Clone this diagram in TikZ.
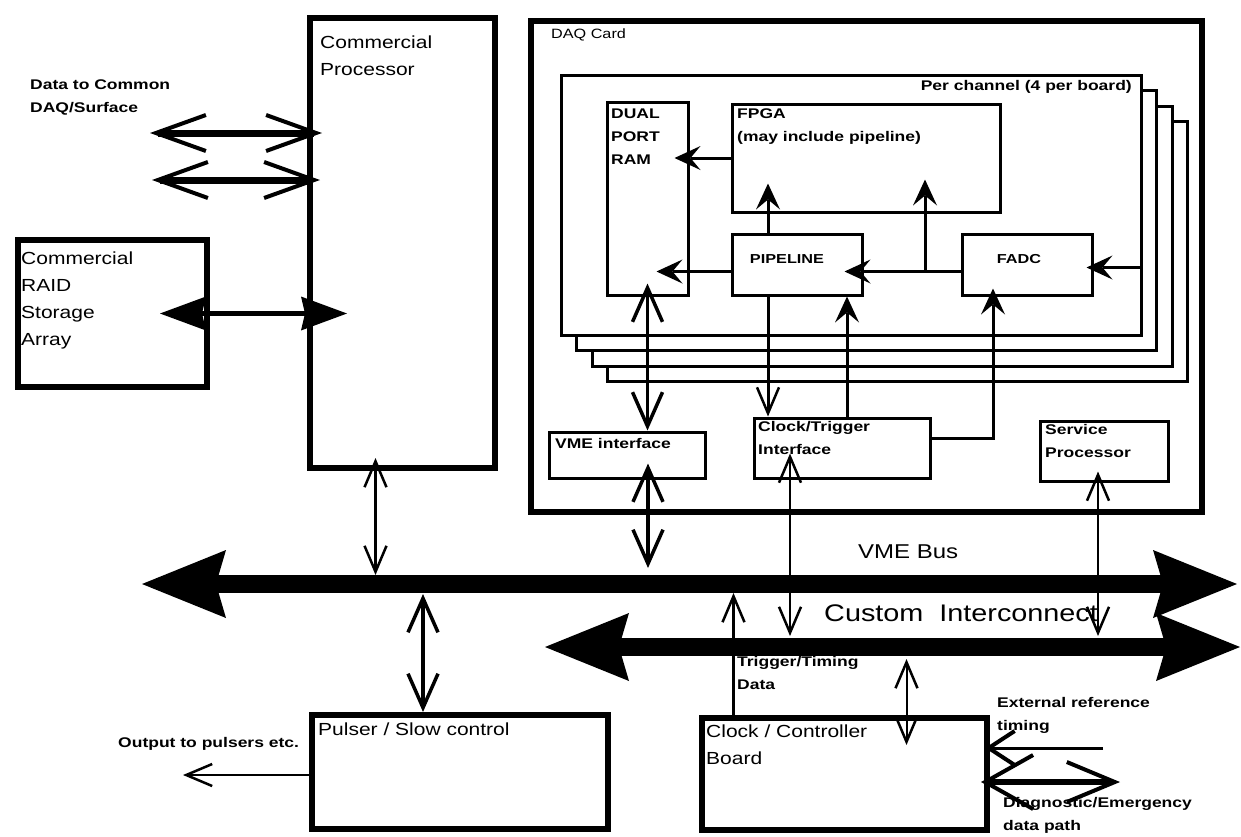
\documentclass[tikz,border=0pt]{standalone}
\usepackage{fontspec}
\setmainfont{Liberation Sans}[FakeStretch=1.2]
\newfontfamily\tagfamily{Liberation Sans}[FakeStretch=1.25]
\usetikzlibrary{arrows.meta,fit}
\tikzset{
  blk/.style={draw, line width=#1, inner sep=0pt, fill=white},
  blk/.default=3pt,
  boxtxt/.style={anchor=north west, align=left, inner sep=0pt,
                 font=\fontsize{17.5}{27}\selectfont},
  tag/.style={anchor=north west, align=left, inner sep=0pt,
              font=\tagfamily\bfseries\fontsize{14}{23}\selectfont},
  % arrow tips
  busTip/.tip={Stealth[length=84pt,width=68pt,inset=10pt,line width=0pt]},
  dataV/.tip={Straight Barb[length=50pt,width=36pt,line width=4pt]},
  fatTri/.tip={Stealth[length=46pt,width=34pt,inset=4pt,line width=0pt]},
  midV/.tip={Straight Barb[length=34pt,width=30pt,line width=3.5pt]},
  thinV/.tip={Straight Barb[length=26pt,width=22pt,line width=2.5pt]},
  inTip/.tip={Stealth[length=26pt,width=24pt,inset=10pt,line width=0pt]},
  % connector styles
  bus/.style={line width=18pt, {busTip}-{busTip}},
  datalink/.style={line width=7pt, {dataV}-{dataV}},
  raidlink/.style={line width=5pt, {fatTri}-{fatTri}},
  midlink/.style={line width=3.5pt, {midV}-{midV}},
  thinlink/.style={line width=2.5pt, {thinV}-{thinV}},
  inlink/.style={line width=3pt, -{inTip}},
}

\begin{document}
\begin{tikzpicture}[x=1pt, y=-1pt]
\useasboundingbox (0,0) rectangle (1241,836);

%% == LEFT SIDE ================================================================
\node[blk=6pt, fit={(310,18) (495,468)}] (proc) {};
\node[boxtxt] (procT) at (320,36) {Commercial\\Processor};

\node[blk=6pt, fit={(18,240) (207,387)}] (raid) {};
\node[boxtxt] (raidT) at (21,252) {Commercial\\RAID\\Storage\\Array};

\node[tag] (dataT) at (30,80) {Data to Common\\DAQ/Surface};
\coordinate (dat1) at (150,133);
\coordinate (dat2) at (152,180);
\draw[datalink, shorten >=-15pt] (dat1) -- (dat1 -| proc.west);
\draw[datalink, shorten >=-13pt] (dat2) -- (dat2 -| proc.west);

% RAID <-> processor
\draw[raidlink, shorten <=-50pt, shorten >=-40pt] (raid.east) -- (raid.east -| proc.west);

%% == DAQ CARD =================================================================
\node[blk=6pt, fit={(531,21) (1202,512)}] (daq) {};
\node[anchor=north west, inner sep=0pt, font=\fontsize{13.5}{16}\selectfont] (daqT) at (551,29) {DAQ Card};

% channel stack (4 per board)
\foreach \k in {3,2,1}
  \draw[blk] (561+15.5*\k, 75+15.5*\k) rectangle (1141+15.5*\k, 335+15.5*\k);
\node[blk, fit={(561,75) (1141,335)}] (chan) {};
\node[tag, anchor=north east] (chanT) at (1132,80) {Per channel (4 per board)};

\node[blk, fit={(607,102) (688,295)}] (dpram) {};
\node[tag] (dpramT) at (611,109) {DUAL\\PORT\\RAM};
\node[blk, fit={(732,104) (1000,212)}] (fpga) {};
\node[tag] (fpgaT) at (737,109) {FPGA\\(may include pipeline)};
\node[blk, fit={(732,234) (862,295)}] (pipe) {};
\node[font=\tagfamily\bfseries\fontsize{13}{15}\selectfont] (pipeT) at (787,259) {PIPELINE};
\node[blk, fit={(962,234) (1092,295)}] (fadc) {};
\node[font=\tagfamily\bfseries\fontsize{13}{15}\selectfont] (fadcT) at (1019,259) {FADC};

\node[blk, fit={(549,432) (705,478)}] (vmeif) {};
\node[tag] (vmeifT) at (555,438) {VME interface};
\node[blk, fit={(754,418) (930,478)}] (clkif) {};
\node[tag] (clkifT) at (758,421) {Clock/Trigger\\Interface};
\node[blk, fit={(1040,421) (1168,481)}] (svc) {};
\node[tag] (svcT) at (1045,424) {Service\\Processor};

% inside the channel
\draw[inlink, shorten >=-15pt] (fpga.west) -- (fpga.west -| dpram.east);
\draw[inlink, shorten >=-33pt] ([yshift=-7pt]pipe.west) -- ([yshift=-7pt]pipe.west -| dpram.east);
\draw[inlink, shorten >=-19pt] ([yshift=-7pt]fadc.west) -- ([yshift=-7pt]fadc.west -| pipe.east);
\coordinate (brch) at (925,272);
\draw[inlink, shorten >=-34pt] (brch) -- (brch |- fpga.south);
\draw[inlink, shorten >=-30pt] ([xshift=-29pt]pipe.north) -- ([xshift=-29pt]pipe.north |- fpga.south);
\draw[inlink, shorten >=-7pt] ([yshift=-3pt]fadc.east -| chan.east) -- ([yshift=-3pt]fadc.east);

% channel <-> card interfaces
\draw[line width=3pt, -{thinV}] ([xshift=-29pt]pipe.south) -- ([xshift=-29pt]pipe.south |- clkif.north);
\draw[inlink] ([xshift=5pt]clkif.north) -- ([xshift=5pt]clkif.north |- pipe.south);
\draw[inlink, shorten >=-8pt] ([yshift=10pt]clkif.east) -| ([xshift=-34pt]fadc.south);
\draw[midlink, shorten <=-13pt] (dpram.south) -- (dpram.south |- vmeif.north);

%% == BUSES ====================================================================
\coordinate (vmeL) at (142,584);
\coordinate (vmeR) at (1237,584);
\coordinate (cusL) at (545,647);
\coordinate (cusR) at (1240,647);
\draw[bus] (vmeL) -- (vmeR);
\draw[bus] (cusL) -- (cusR);
\node[anchor=north west, inner sep=0pt, font=\fontsize{20}{24}\selectfont] (vmeT) at (858,545) {VME Bus};
\node[anchor=north west, inner sep=0pt, font=\fontsize{24}{28}\selectfont] (cusT) at (824,605) {Custom\ \ Interconnect};

% card and processor to the buses
\draw[thinlink, shorten <=-13pt, shorten >=9pt] ([xshift=-27pt]proc.south) -- ([xshift=-27pt]proc.south |- vmeL);
\draw[midlink, shorten <=-16pt, shorten >=16pt] ([xshift=21pt]vmeif.south) -- ([xshift=21pt]vmeif.south |- vmeL);
\draw[thinlink, shorten <=-26pt, shorten >=11pt] ([xshift=-52pt]clkif.south) -- ([xshift=-52pt]clkif.south |- cusL);
\draw[thinlink, line width=2pt, shorten <=-11pt, shorten >=11pt] ([xshift=-6pt]svc.south) -- ([xshift=-6pt]svc.south |- cusL);

%% == LOWER BOARDS =============================================================
\node[blk=6pt, fit={(312,715) (608,829)}] (pulser) {};
\node[boxtxt] (pulserT) at (318,723) {Pulser / Slow control};
\node[blk=6pt, fit={(702,718) (987,830)}] (ctrl) {};
\node[boxtxt] (ctrlT) at (706,725) {Clock / Controller\\Board};

\draw[midlink, shorten <=10pt] ([xshift=-37pt]pulser.north |- vmeL) -- ([xshift=-37pt]pulser.north);
\coordinate (outp) at (183,775);
\draw[line width=2.5pt, -{thinV}] (pulser.west |- outp) -- (outp);
\node[tag] (outT) at (118,737) {Output to pulsers etc.};

\draw[line width=3pt, -{thinV}, shorten >=9pt] ([xshift=-111pt]ctrl.north) -- ([xshift=-111pt]ctrl.north |- vmeL);
\node[tag] (trigT) at (737,656) {Trigger/Timing\\Data};
\draw[thinlink, line width=2pt, shorten <=12pt, shorten >=-30pt] ([xshift=62pt]ctrl.north |- cusL) -- ([xshift=62pt]ctrl.north);

\coordinate (extin) at (1103,748);
\draw[line width=3pt, -{Straight Barb[length=26pt,width=34pt,line width=4pt]}, shorten >=-5pt] (extin) -- (extin -| ctrl.east);
\node[tag] (extT) at (997,697) {External reference\\timing};
\coordinate (diagout) at (1120,782);
\draw[line width=6pt, {Straight Barb[length=48pt,width=54pt,line width=4pt]}-{Straight Barb[length=48pt,width=40pt,line width=4pt]}, shorten <=-9pt] (diagout -| ctrl.east) -- (diagout);
\node[tag] (diagT) at (1003,797) {Diagnostic/Emergency\\data path};
\end{tikzpicture}
\end{document}
